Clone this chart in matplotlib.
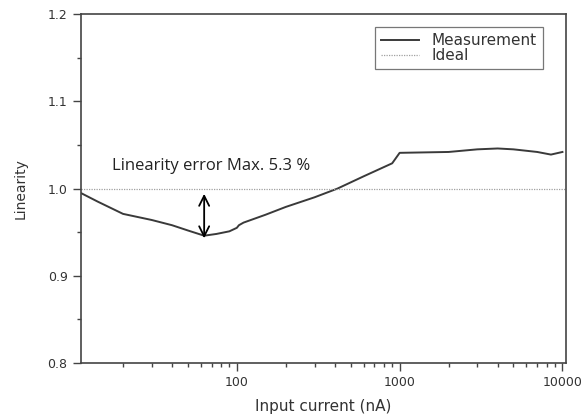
import numpy as np
import matplotlib
matplotlib.use("Agg")
import matplotlib.pyplot as plt
from matplotlib.ticker import (LogLocator, FixedLocator, FixedFormatter, NullFormatter,
                               MultipleLocator, FormatStrFormatter)

# --- Data ---
current_nA = [11, 14, 20, 30, 40, 50, 63, 75, 90, 100, 103, 110, 150, 200, 300,
              415, 600, 900, 1000, 2000, 3000, 4000, 5000, 7000, 8500, 10000]
linearity = [0.995, 0.985, 0.971, 0.964, 0.958, 0.952, 0.946, 0.948, 0.951, 0.955,
             0.958, 0.961, 0.970, 0.979, 0.990, 1.000, 1.014, 1.029, 1.041, 1.042,
             1.045, 1.046, 1.045, 1.042, 1.039, 1.042]
ideal = 1.0
x_ticks = [100, 1000, 10000]
x_ticklabels = ["100", "1000", "10000"]
err_x = 63
err_lo, err_hi = 0.943, 0.994

fig = plt.figure(figsize=(5.81, 4.17), dpi=100)
ax = fig.add_axes([0.139, 0.1295, 0.835, 0.8365])

ax.plot(current_nA, linearity, color="#3a3a3a", lw=1.4, label="Measurement")
ax.axhline(ideal, color="#a0a0a0", lw=0.9, ls=(0, (1, 1)), label="Ideal")

ax.set_xscale("log")
ax.set_xlim(11, 10500)
ax.set_ylim(0.8, 1.2)
ax.xaxis.set_major_locator(FixedLocator(x_ticks))
ax.xaxis.set_major_formatter(FixedFormatter(x_ticklabels))
ax.xaxis.set_minor_locator(LogLocator(base=10, subs=np.arange(2, 10)))
ax.xaxis.set_minor_formatter(NullFormatter())
ax.yaxis.set_major_locator(MultipleLocator(0.1))
ax.yaxis.set_minor_locator(MultipleLocator(0.05))
ax.yaxis.set_major_formatter(FormatStrFormatter("%.1f"))

for s in ax.spines.values():
    s.set_color("#444444")
    s.set_linewidth(1.2)
ax.tick_params(which="major", direction="out", length=6, width=1, colors="#444444",
               labelsize=9, labelcolor="#333333")
ax.tick_params(which="minor", direction="out", length=3, width=1, colors="#444444")

ax.set_xlabel("Input current (nA)", fontsize=11, color="#333333", labelpad=7)
ax.set_ylabel("Linearity", fontsize=10, color="#333333", labelpad=14)

ax.annotate("", xy=(err_x, err_lo), xytext=(err_x, err_hi),
            arrowprops=dict(arrowstyle="<->", color="black", lw=1.3, mutation_scale=18,
                            shrinkA=0, shrinkB=0))
ax.text(17.0, 1.021, "Linearity error Max. 5.3 %", fontsize=12, color="#222222",
        family="Open Sans", ha="left", va="baseline")

leg = ax.legend(loc="upper right", bbox_to_anchor=(0.9526, 0.963), borderaxespad=0,
                frameon=True, fancybox=False, handlelength=2.5, handletextpad=0.8,
                borderpad=0.4, labelspacing=0.0, prop={"size": 11})
leg.get_frame().set_edgecolor("#555555")
leg.get_frame().set_linewidth(0.9)
for t in leg.get_texts():
    t.set_color("#333333")

fig.savefig("out.png", dpi=100)
